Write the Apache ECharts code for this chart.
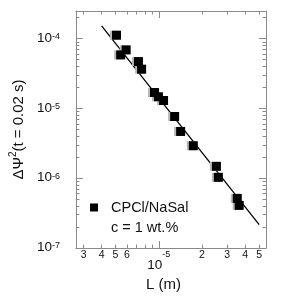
<!DOCTYPE html>
<html><head><meta charset="utf-8">
<script src="https://cdn.jsdelivr.net/npm/echarts@6/dist/echarts.min.js"></script>
<style>html,body{margin:0;padding:0;background:#fff}#c{width:300px;height:308px}</style>
</head><body><div id="c"></div>
<script>
// Data
const lengthL = [5.08e-6, 5.93e-6, 5.43e-6, 7.22e-6, 7.6e-6, 9.34e-6, 9.95e-6, 1.08e-5, 1.29e-5, 1.42e-5, 1.74e-5, 2.52e-5, 2.60e-5, 3.52e-5, 3.63e-5];
const dPsi2 = [1.12e-4, 6.9e-5, 5.85e-5, 4.69e-5, 3.65e-5, 1.69e-5, 1.47e-5, 1.30e-5, 7.66e-6, 4.68e-6, 2.92e-6, 1.48e-6, 1.03e-6, 5.14e-7, 4.08e-7];
const fitL = [4.0e-6, 5.0e-5];
const fitPsi = [1.52e-4, 2.16e-7];

// Ticks and tick labels
const xTickMinor = [3e-6, 4e-6, 5e-6, 6e-6, 7e-6, 8e-6, 9e-6, 2e-5, 3e-5, 4e-5, 5e-5];
const xTickMajor = [1e-5];
const xLabelVals = [3e-6, 4e-6, 5e-6, 6e-6, 1e-5, 2e-5, 3e-5, 4e-5, 5e-5];
const xLabelText = ['3', '4', '5', '6', '{b|10}{s|-5}', '2', '3', '4', '5'];
const yTickMajor = [1e-7, 1e-6, 1e-5, 1e-4];
const yTickMinor = [2e-7, 3e-7, 4e-7, 5e-7, 6e-7, 7e-7, 8e-7, 9e-7,
                    2e-6, 3e-6, 4e-6, 5e-6, 6e-6, 7e-6, 8e-6, 9e-6,
                    2e-5, 3e-5, 4e-5, 5e-5, 6e-5, 7e-5, 8e-5, 9e-5, 2e-4];
const yLabelText = ['{b|10}{s|-7}', '{b|10}{s|-6}', '{b|10}{s|-5}', '{b|10}{s|-4}'];
const xRange = [2.65e-6, 5.58e-5];
const yRange = [1e-7, 2.49e-4];

const lg = Math.log10;
const FONT = 'Liberation Sans, Arial, sans-serif';
const AX = '#8a8a8a';
const TXT = '#111';

function pickLabel(vals, texts, v) {
  let best = 0, d = Infinity;
  vals.forEach((x, i) => { const e = Math.abs(lg(x) - v); if (e < d) { d = e; best = i; } });
  return texts[best];
}

function xAxisDef(pos, ticks, len, withLine, withLabels) {
  return {
    type: 'value', position: pos, min: lg(xRange[0]), max: lg(xRange[1]),
    axisLine: { show: withLine, onZero: false, lineStyle: { color: AX, width: 1 } },
    axisTick: { show: true, inside: true, length: len, customValues: ticks.map(lg), lineStyle: { color: AX } },
    axisLabel: withLabels ? {
      show: true, customValues: xLabelVals.map(lg), margin: 2,
      color: TXT, fontFamily: FONT, fontSize: 10.5,
      formatter: v => pickLabel(xLabelVals, xLabelText, v),
      rich: {
        b: { fontSize: 13.5, lineHeight: 30, color: TXT, fontFamily: FONT },
        s: { fontSize: 9, lineHeight: 20, verticalAlign: 'top', color: TXT, fontFamily: FONT }
      }
    } : { show: false },
    splitLine: { show: false }
  };
}
function yAxisDef(pos, ticks, len, withLine, withLabels) {
  return {
    type: 'value', position: pos, min: lg(yRange[0]), max: lg(yRange[1]),
    axisLine: { show: withLine, onZero: false, lineStyle: { color: AX, width: 1 } },
    axisTick: { show: true, inside: true, length: len, customValues: ticks.map(lg), lineStyle: { color: AX } },
    axisLabel: withLabels ? {
      show: true, customValues: yTickMajor.map(lg), margin: 16,
      color: TXT, fontFamily: FONT,
      formatter: v => pickLabel(yTickMajor, yLabelText, v),
      rich: {
        b: { fontSize: 13.5, lineHeight: 13, verticalAlign: 'bottom', color: TXT, fontFamily: FONT },
        s: { fontSize: 9, lineHeight: 9, verticalAlign: 'top', color: TXT, fontFamily: FONT }
      }
    } : { show: false },
    splitLine: { show: false }
  };
}

const xs = xAxisDef('bottom', xTickMinor, 3.5, true, true);
xs.name = 'L (m)';
xs.nameLocation = 'middle';
xs.nameGap = 28;
xs.nameTextStyle = { fontSize: 15, color: TXT, fontFamily: FONT, padding: [0, 15, 0, 0] };

const ys = yAxisDef('left', yTickMinor, 3.5, true, true);
ys.name = '{a|ΔΨ}{s|2}{a|(t = 0.02 s)}';
ys.nameLocation = 'middle';
ys.nameRotate = 90;
ys.nameGap = 45;
ys.nameTextStyle = {
  color: TXT, fontFamily: FONT, fontSize: 15,
  rich: {
    a: { fontSize: 15, lineHeight: 18, verticalAlign: 'bottom', color: TXT, fontFamily: FONT },
    s: { fontSize: 10, lineHeight: 10, verticalAlign: 'top', color: TXT, fontFamily: FONT }
  }
};

const chart = echarts.init(document.getElementById('c'), null, { renderer: 'canvas' });
chart.setOption({
  animation: false,
  backgroundColor: '#fff',
  grid: { left: 73, right: 34, top: 11, bottom: 60 },
  xAxis: [
    xs,
    xAxisDef('bottom', xTickMajor, 7, false, false),
    xAxisDef('top', xTickMinor, 3.5, true, false),
    xAxisDef('top', xTickMajor, 7, false, false)
  ],
  yAxis: [
    ys,
    yAxisDef('left', yTickMajor, 7, false, false),
    yAxisDef('right', yTickMinor, 3.5, true, false),
    yAxisDef('right', yTickMajor, 7, false, false)
  ],
  legend: {
    data: ['CPCl/NaSal'], left: 90, top: 200, padding: 0,
    itemWidth: 8, itemHeight: 8, icon: 'rect',
    textStyle: { fontSize: 14.5, color: TXT, fontFamily: FONT, padding: [0, 0, 0, 8] }
  },
  title: {
    text: 'c = 1 wt.%', left: 111, top: 220, padding: 0,
    textStyle: { fontSize: 14.5, fontWeight: 'normal', color: TXT, fontFamily: FONT, lineHeight: 16 }
  },
  series: [
    {
      type: 'line', name: 'fit', data: fitL.map((l, i) => [lg(l), lg(fitPsi[i])]),
      showSymbol: false, symbol: 'none', lineStyle: { color: '#000', width: 1.3 }, z: 1, silent: true
    },
    {
      type: 'scatter', name: 'ghost', data: lengthL.map((l, i) => [lg(l), lg(dPsi2[i])]),
      symbol: 'rect', symbolSize: 9, symbolOffset: [-2, 0], itemStyle: { color: '#b8b8b8', opacity: 1 }, z: 2, silent: true
    },
    {
      type: 'scatter', name: 'CPCl/NaSal', data: lengthL.map((l, i) => [lg(l), lg(dPsi2[i])]),
      symbol: 'rect', symbolSize: 9, itemStyle: { color: '#000', opacity: 1 }, z: 3
    }
  ]
});
</script>
</body></html>
